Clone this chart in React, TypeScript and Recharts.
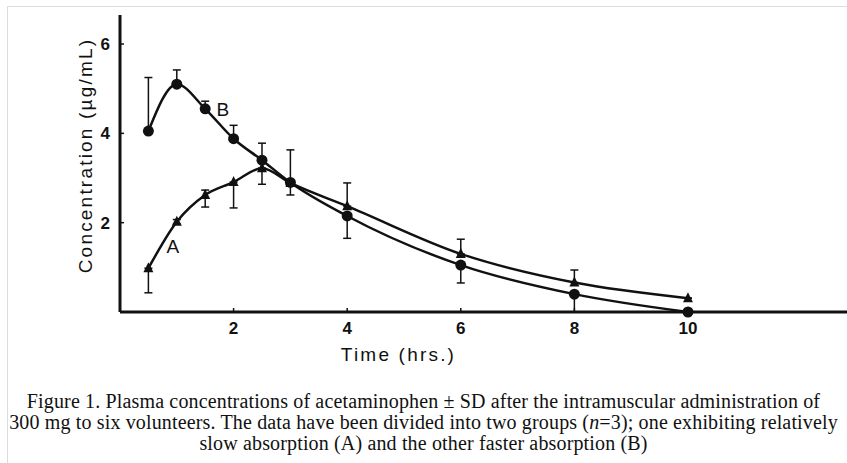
import React from "react";
import {
  LineChart,
  Line,
  XAxis,
  YAxis,
  ErrorBar,
  ReferenceDot,
} from "recharts";

// sampling times (hrs)
const times = [0.5, 1, 1.5, 2, 2.5, 3, 4, 6, 8, 10];

// group A: slow absorption
const groupA = [0.98, 2.02, 2.62, 2.91, 3.22, 2.89, 2.37, 1.3, 0.66, 0.31];
// [minus SD, plus SD] as drawn
const errA: [number, number][] = [
  [0.55, 0], [0.05, 0.05], [0.27, 0.11], [0.58, 0], [0.36, 0],
  [0.27, 0], [0, 0.52], [0, 0.33], [0, 0.28], [0, 0],
];

// group B: fast absorption
const groupB = [4.05, 5.1, 4.55, 3.88, 3.4, 2.9, 2.15, 1.05, 0.4, 0];
const errB: [number, number][] = [
  [0, 1.2], [0, 0.32], [0, 0.17], [0, 0.3], [0, 0.38],
  [0, 0.73], [0.5, 0], [0.4, 0], [0.4, 0], [0, 0],
];

const xTicks = [2, 4, 6, 8, 10];
const yTicks = [2, 4, 6];

const curveLabels = [
  { name: "A", t: 0.93, c: 1.48 },
  { name: "B", t: 1.81, c: 4.55 },
];

const data = times.map((t, i) => ({
  t,
  a: groupA[i],
  aErr: errA[i],
  b: groupB[i],
  bErr: errB[i],
}));

const INK = "#111";
const sans = "'Liberation Sans', Arial, sans-serif";

function XTick({ x, y, payload }: any) {
  return (
    <g>
      <line x1={x} x2={x} y1={y} y2={y - 4} stroke={INK} strokeWidth={1.5} />
      <text x={x} y={y + 22} textAnchor="middle" fill={INK} fontFamily={sans} fontSize={17} fontWeight={700}>
        {payload.value}
      </text>
    </g>
  );
}

function YTick({ x, y, payload }: any) {
  return (
    <g>
      <line x1={x} x2={x + 4} y1={y} y2={y} stroke={INK} strokeWidth={1.5} />
      <text x={x - 10} y={y + 6} textAnchor="end" fill={INK} fontFamily={sans} fontSize={17} fontWeight={700}>
        {payload.value}
      </text>
    </g>
  );
}

function CircleDot({ cx, cy }: any) {
  return <circle cx={cx} cy={cy} r={5.5} fill={INK} />;
}

function TriangleDot({ cx, cy }: any) {
  return <path d={`M${cx},${cy - 6} L${cx + 5},${cy + 4} L${cx - 5},${cy + 4} Z`} fill={INK} />;
}

function YLabel({ viewBox }: any) {
  const x = viewBox.x + 5;
  const y = viewBox.y + viewBox.height / 2 - 8;
  return (
    <text
      x={x}
      y={y}
      transform={`rotate(-90 ${x} ${y})`}
      textAnchor="middle"
      dominantBaseline="central"
      fill={INK}
      fontFamily={sans}
      fontSize={19}
      letterSpacing={2.2}
    >
      Concentration (µg/mL)
    </text>
  );
}

function XLabel({ viewBox }: any) {
  const x = viewBox.x + viewBox.width / 2 - 85;
  return (
    <text x={x} y={viewBox.y + 49} textAnchor="middle" fill={INK} fontFamily={sans} fontSize={19} letterSpacing={2.2}>
      Time (hrs.)
    </text>
  );
}

export default function App() {
  return (
    <div
      style={{
        position: "absolute",
        left: 0,
        top: 0,
        width: 847,
        height: 463,
        background: "#fff",
        overflow: "hidden",
      }}
    >
      {/* faint frame of the scanned page */}
      <div
        style={{
          position: "absolute",
          left: 7,
          top: 6,
          width: 900,
          height: 500,
          borderLeft: "1px solid #dcdcdc",
          borderTop: "1px solid #dcdcdc",
        }}
      />

      <div style={{ position: "absolute", left: 0, top: 0 }}>
        <LineChart width={847} height={370} data={data} margin={{ top: 15, right: 0, left: 80, bottom: 0 }}>
          <XAxis
            dataKey="t"
            type="number"
            domain={[0, 12.8]}
            ticks={xTicks}
            tickSize={0}
            tickMargin={0}
            tick={<XTick />}
            height={58}
            axisLine={{ stroke: INK, strokeWidth: 3 }}
            label={<XLabel />}
          />
          <YAxis
            type="number"
            domain={[0, 6.65]}
            ticks={yTicks}
            tickSize={0}
            tickMargin={0}
            tick={<YTick />}
            width={40}
            axisLine={{ stroke: INK, strokeWidth: 3 }}
            label={<YLabel />}
          />
          <Line
            type="monotone"
            dataKey="a"
            stroke={INK}
            strokeWidth={2.5}
            dot={<TriangleDot />}
            activeDot={false}
            isAnimationActive={false}
          >
            <ErrorBar dataKey="aErr" direction="y" width={4} stroke={INK} strokeWidth={1.5} />
          </Line>
          <Line
            type="monotone"
            dataKey="b"
            stroke={INK}
            strokeWidth={2.5}
            dot={<CircleDot />}
            activeDot={false}
            isAnimationActive={false}
          >
            <ErrorBar dataKey="bErr" direction="y" width={4} stroke={INK} strokeWidth={1.5} />
          </Line>
          {curveLabels.map((l) => (
            <ReferenceDot
              key={l.name}
              x={l.t}
              y={l.c}
              r={0}
              stroke="none"
              label={{ value: l.name, position: "center", fill: INK, fontFamily: sans, fontSize: 19 }}
            />
          ))}
        </LineChart>
      </div>

      <div
        style={{
          position: "absolute",
          left: 0,
          top: 391,
          width: 847,
          textAlign: "center",
          fontFamily: "'Liberation Serif', 'Times New Roman', serif",
          fontSize: 20,
          lineHeight: "21px",
          letterSpacing: 0.15,
          color: "#111",
          whiteSpace: "nowrap",
        }}
      >
        Figure 1. Plasma concentrations of acetaminophen ± SD after the intramuscular administration of
        <br />
        300 mg to six volunteers. The data have been divided into two groups (<i>n</i>=3); one exhibiting relatively
        <br />
        slow absorption (A) and the other faster absorption (B)
      </div>
    </div>
  );
}
